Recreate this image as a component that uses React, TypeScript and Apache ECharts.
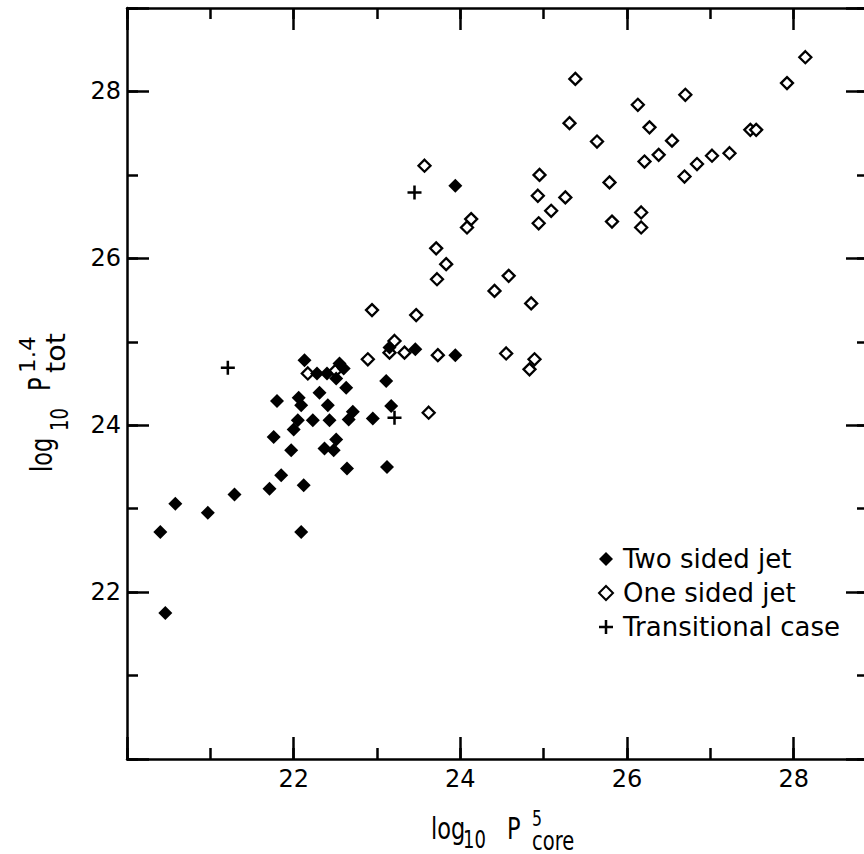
import React, { useEffect, useRef } from "react";
import * as echarts from "echarts";

const seriesNames = ["Two sided jet", "One sided jet", "Transitional case"];
const tickLabels = [22, 24, 26, 28];

const twoSided: [number, number][] = [
  [20.40, 22.72], [20.46, 21.75], [20.58, 23.06], [20.97, 22.95], [21.29, 23.17],
  [21.71, 23.24], [21.85, 23.40], [22.12, 23.28], [22.09, 22.72], [22.64, 23.48],
  [23.12, 23.50], [21.76, 23.86], [21.97, 23.70], [21.80, 24.29], [22.13, 24.78],
  [22.06, 24.33], [22.09, 24.24], [22.31, 24.39], [22.41, 24.24], [22.05, 24.06],
  [22.00, 23.95], [22.23, 24.06], [22.43, 24.06], [22.37, 23.72], [22.48, 23.70],
  [22.51, 23.83], [22.66, 24.07], [22.71, 24.16], [22.95, 24.08], [22.63, 24.45],
  [22.51, 24.56], [22.55, 24.74], [22.28, 24.62], [22.40, 24.62], [22.60, 24.68],
  [23.11, 24.53], [23.17, 24.23], [23.15, 24.93], [23.46, 24.91], [23.94, 24.84],
  [23.94, 26.87],
];

const oneSided: [number, number][] = [
  [22.17, 24.62], [22.50, 24.65], [22.89, 24.79], [23.21, 25.01], [23.15, 24.87],
  [23.33, 24.87], [23.73, 24.84], [22.94, 25.38], [23.47, 25.32], [23.62, 24.15],
  [24.55, 24.86], [24.89, 24.79], [24.83, 24.67], [24.85, 25.46], [24.41, 25.61],
  [24.58, 25.79], [23.72, 25.75], [23.83, 25.93], [23.71, 26.12], [24.13, 26.47],
  [24.08, 26.37], [23.57, 27.11], [24.95, 27.00], [25.79, 26.91], [24.93, 26.75],
  [25.26, 26.73], [25.09, 26.57], [24.94, 26.42], [25.82, 26.44], [26.17, 26.55],
  [26.17, 26.37], [25.38, 28.15], [28.14, 28.41], [27.92, 28.10], [26.70, 27.96],
  [26.13, 27.84], [25.31, 27.62], [26.27, 27.57], [25.64, 27.40], [26.54, 27.41],
  [26.38, 27.24], [26.21, 27.16], [27.48, 27.54], [27.55, 27.54], [27.23, 27.26],
  [27.02, 27.23], [26.84, 27.13], [26.69, 26.98],
];

const transitional: [number, number][] = [
  [21.21, 24.69], [23.45, 26.79], [23.21, 24.09],
];

const PLUS = "path://M8.2,0H11.8V8.2H20V11.8H11.8V20H8.2V11.8H0V8.2H8.2Z";
const FONT = "'DejaVu Sans', sans-serif";

export default function App() {
  const ref = useRef<HTMLDivElement>(null);

  useEffect(() => {
    const chart = echarts.init(ref.current!, null, { renderer: "svg" });
    const black = "#000";
    const axisLine = { show: true, onZero: false, lineStyle: { color: black, width: 2.5 } };
    const noLine = { show: false, onZero: false };
    const tick = (len: number) => ({ show: true, inside: true, length: len, lineStyle: { color: black, width: 2.5 } });
    const fmt = (v: number) => (tickLabels.includes(Math.round(v)) && Math.abs(v - Math.round(v)) < 1e-6 ? String(Math.round(v)) : "");
    const base = { type: "value", min: 20, max: 29, splitLine: { show: false } };

    const xAxis = [
      { ...base, position: "bottom", interval: 2, axisLine, axisTick: tick(22),
        axisLabel: { formatter: fmt, margin: 8, fontSize: 24, fontFamily: FONT, color: black } },
      { ...base, position: "bottom", interval: 1, axisLine: noLine, axisTick: tick(11), axisLabel: { show: false } },
      { ...base, position: "top", interval: 2, axisLine, axisTick: tick(22), axisLabel: { show: false } },
      { ...base, position: "top", interval: 1, axisLine: noLine, axisTick: tick(11), axisLabel: { show: false } },
    ];
    const yAxis = [
      { ...base, position: "left", interval: 2, axisLine, axisTick: tick(22),
        axisLabel: { formatter: fmt, margin: 6, fontSize: 24, fontFamily: FONT, color: black } },
      { ...base, position: "left", interval: 1, axisLine: noLine, axisTick: tick(11), axisLabel: { show: false } },
      { ...base, position: "right", offset: -9, interval: 2, axisLine, axisTick: tick(22), axisLabel: { show: false } },
      { ...base, position: "right", offset: -9, interval: 1, axisLine: noLine, axisTick: tick(11), axisLabel: { show: false } },
    ];

    const txt = (text: string, x: number, y: number, fs: number, rot = 0, sx = 0.75) => ({
      type: "text", x, y, rotation: rot, scaleX: sx, silent: true,
      style: { text, fontSize: fs, fontFamily: FONT, fill: black, align: "left", verticalAlign: "middle" },
    });
    const R = Math.PI / 2;

    chart.setOption({
      animation: false,
      grid: { left: 127, top: 8, width: 750, height: 751, containLabel: false },
      xAxis,
      yAxis,
      legend: {
        data: seriesNames,
        orient: "vertical",
        left: 598,
        top: 542,
        padding: 0,
        itemGap: 0,
        itemWidth: 14,
        itemHeight: 14,
        selectedMode: false,
        textStyle: { fontSize: 26, fontFamily: FONT, color: black, lineHeight: 34, padding: [0, 0, 0, 5] },
      },
      series: [
        { name: seriesNames[1], type: "scatter", data: oneSided, symbol: "diamond", symbolSize: 12,
          itemStyle: { color: "#fff", borderColor: black, borderWidth: 2.3, opacity: 1 }, emphasis: { disabled: true } },
        { name: seriesNames[0], type: "scatter", data: twoSided, symbol: "diamond", symbolSize: 14,
          itemStyle: { color: black, opacity: 1 }, emphasis: { disabled: true } },
        { name: seriesNames[2], type: "scatter", data: transitional, symbol: PLUS, symbolSize: 14,
          itemStyle: { color: black, opacity: 1 }, emphasis: { disabled: true } },
      ],
      graphic: [
        txt("log", 431, 828.5, 30),
        txt("10", 463, 839.5, 24),
        txt("P", 507, 828.5, 30),
        txt("5", 532, 818.5, 21),
        txt("core", 532, 840.5, 26),
        txt("log", 41.5, 472, 30, R),
        txt("10", 59.6, 431, 24, R),
        txt("P", 39.5, 391, 30, R),
        txt("1.4", 27.5, 373, 22, R, 1.05),
        txt("tot", 55.5, 373, 26, R, 1.1),
      ],
    });
    return () => chart.dispose();
  }, []);

  return <div ref={ref} style={{ position: "fixed", left: 0, top: 0, width: 900, height: 854, background: "#fff" }} />;
}
